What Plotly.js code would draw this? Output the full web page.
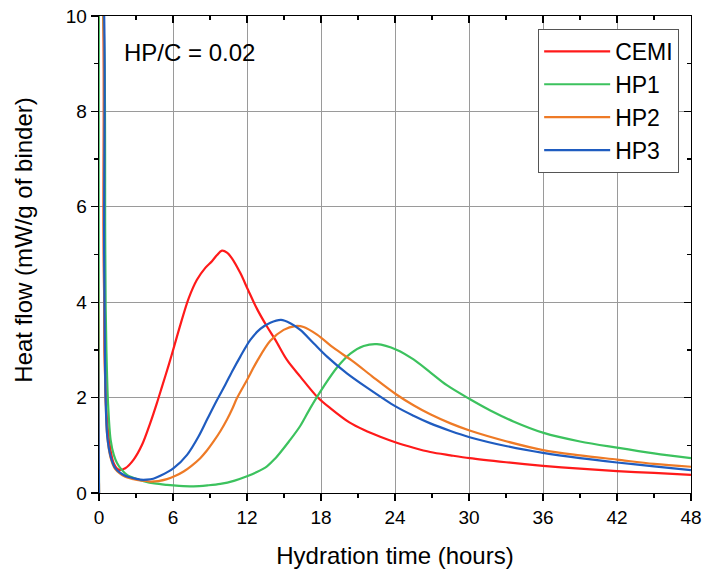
<!DOCTYPE html>
<html>
<head>
<meta charset="utf-8">
<script src="https://cdn.plot.ly/plotly-3.0.1.min.js"></script>
<style>html,body{margin:0;padding:0;background:#fff;}#chart{width:702px;height:571px;}</style>
</head>
<body>
<div id="chart"></div>
<script>
// Hydration time (hours) and heat flow (mW/g of binder)
const cemiT = [0, 0.05, 0.3, 0.38, 0.45, 0.6, 0.9, 1.2, 1.59, 2.13, 2.81, 3.49, 4.16, 4.7, 5.11, 5.65, 6.1, 6.59, 7.27, 7.94, 8.62, 9.16, 9.57, 9.97, 10.38, 10.78, 11.46, 12.08, 12.81, 13.62, 14.3, 15.24, 16.32, 17.68, 18.75, 20.3, 21.5, 22.8, 24.08, 25.5, 26.86, 28.5, 30.05, 33.0, 36.0, 39.0, 42.0, 45.0, 48.0];
const cemiV = [0, 11, 10.5, 5.5, 3.0, 1.7, 0.95, 0.62, 0.49, 0.52, 0.70, 1.01, 1.47, 1.89, 2.23, 2.68, 3.08, 3.52, 4.08, 4.47, 4.72, 4.86, 4.99, 5.08, 5.04, 4.92, 4.61, 4.26, 3.86, 3.49, 3.21, 2.79, 2.44, 2.02, 1.78, 1.48, 1.32, 1.18, 1.06, 0.95, 0.86, 0.79, 0.73, 0.645, 0.57, 0.51, 0.46, 0.42, 0.38];

const hp1T = [0, 0.08, 0.45, 0.5, 0.54, 0.6, 0.73, 0.94, 1.2, 1.46, 1.8, 2.27, 3.0, 3.62, 4.5, 5.51, 6.5, 7.67, 8.8, 9.84, 11.0, 12.0, 12.8, 13.62, 14.2, 14.7, 15.4, 16.3, 17.13, 18.21, 19.3, 20.38, 21.46, 22.54, 24.16, 25.5, 26.86, 28.2, 30.05, 31.73, 33.6, 36.05, 39.0, 42.0, 45.0, 48.0];
const hp1V = [0, 12, 9, 5.5, 3.9, 3.0, 1.9, 1.12, 0.8, 0.63, 0.5, 0.38, 0.3, 0.25, 0.2, 0.17, 0.15, 0.14, 0.16, 0.19, 0.26, 0.35, 0.44, 0.56, 0.7, 0.85, 1.08, 1.4, 1.78, 2.23, 2.63, 2.92, 3.08, 3.12, 3.0, 2.8, 2.53, 2.26, 1.97, 1.73, 1.5, 1.26, 1.08, 0.95, 0.83, 0.73];

const hp2T = [0, 0.05, 0.3, 0.38, 0.45, 0.54, 0.67, 0.94, 1.32, 2.13, 2.8, 3.5, 4.16, 4.8, 5.51, 6.2, 6.86, 7.5, 8.21, 8.75, 9.29, 9.85, 10.38, 10.8, 11.19, 12.0, 12.81, 13.89, 14.97, 15.92, 16.59, 17.68, 19.03, 20.65, 22.27, 24.08, 25.5, 26.86, 28.5, 30.05, 33.08, 36.0, 39.0, 42.0, 45.0, 48.0];
const hp2V = [0, 11, 10.5, 5.5, 3.0, 1.95, 1.19, 0.74, 0.5, 0.34, 0.29, 0.26, 0.24, 0.25, 0.29, 0.36, 0.45, 0.57, 0.73, 0.89, 1.08, 1.3, 1.54, 1.76, 1.99, 2.37, 2.76, 3.19, 3.42, 3.5, 3.48, 3.32, 3.04, 2.75, 2.42, 2.07, 1.84, 1.65, 1.46, 1.31, 1.08, 0.9, 0.79, 0.7, 0.61, 0.55];

const hp3T = [0, 0.05, 0.35, 0.42, 0.54, 0.67, 0.94, 1.32, 2.13, 2.8, 3.35, 3.89, 4.4, 4.97, 6.05, 7.14, 8.08, 8.76, 9.57, 10.24, 10.86, 11.46, 12.27, 13.08, 13.89, 14.76, 15.51, 16.32, 17.4, 18.49, 20.1, 21.73, 24.08, 25.5, 26.86, 28.5, 30.05, 33.08, 36.0, 39.0, 42.0, 45.0, 48.0];
const hp3V = [0, 11, 10.5, 5.0, 1.95, 1.19, 0.77, 0.52, 0.36, 0.31, 0.28, 0.28, 0.3, 0.36, 0.52, 0.8, 1.19, 1.54, 1.95, 2.27, 2.58, 2.86, 3.21, 3.44, 3.57, 3.63, 3.56, 3.42, 3.14, 2.86, 2.51, 2.21, 1.81, 1.62, 1.46, 1.3, 1.17, 0.98, 0.84, 0.73, 0.64, 0.56, 0.48];

const seriesNames = ["CEMI", "HP1", "HP2", "HP3"];
const seriesColors = ["#ff1a1a", "#3cc25e", "#ee7a26", "#1f5cc0"];
const xTickVals = [0, 6, 12, 18, 24, 30, 36, 42, 48];
const yTickVals = [0, 2, 4, 6, 8, 10];

const FONT = "Arial, 'Liberation Sans', sans-serif";
const xs = [cemiT, hp1T, hp2T, hp3T];
const ys = [cemiV, hp1V, hp2V, hp3V];

const traces = seriesNames.map((n, i) => ({
  x: xs[i], y: ys[i], name: n, type: "scatter", mode: "lines",
  line: {color: seriesColors[i], width: 2.2, shape: "spline", smoothing: 0.9},
  hoverinfo: "skip"
}));
traces.push({x: [], y: [], xaxis: "x2", yaxis: "y2", showlegend: false, type: "scatter", mode: "lines", hoverinfo: "skip"});

const axBase = {
  showline: true, linecolor: "#000", linewidth: 1.3,
  ticks: "outside", ticklen: 7, tickwidth: 1.3, tickcolor: "#000",
  tickfont: {family: FONT, size: 19, color: "#000"},
  zeroline: false, showgrid: true, gridcolor: "#9a9a9a", gridwidth: 1,
  fixedrange: true
};

const layout = {
  width: 702, height: 571,
  margin: {l: 99, r: 11, t: 16, b: 78},
  paper_bgcolor: "#fff", plot_bgcolor: "#fff",
  font: {family: FONT, color: "#000"},
  showlegend: true,
  xaxis: Object.assign({}, axBase, {
    range: [0, 48], tickmode: "array", tickvals: xTickVals, ticktext: xTickVals.map(String),
    minor: {dtick: 3, tick0: 0, ticks: "outside", ticklen: 4, tickwidth: 1.3, tickcolor: "#000", showgrid: false},
    title: {text: "Hydration time (hours)", font: {family: FONT, size: 24, color: "#000"}, standoff: 20}
  }),
  yaxis: Object.assign({}, axBase, {
    range: [0, 10], tickmode: "array", tickvals: yTickVals, ticktext: yTickVals.map(String),
    minor: {dtick: 1, tick0: 0, ticks: "outside", ticklen: 4, tickwidth: 1.3, tickcolor: "#000", showgrid: false}
  }),
  xaxis2: {
    overlaying: "x", side: "top", anchor: "y", range: [0, 48], tickmode: "array", tickvals: xTickVals,
    showticklabels: false, ticks: "inside", ticklen: 7, tickwidth: 1.3, tickcolor: "#000",
    showline: true, linecolor: "#000", linewidth: 1.3, showgrid: false, zeroline: false, fixedrange: true,
    minor: {dtick: 3, tick0: 0, ticks: "inside", ticklen: 4, tickwidth: 1.3, tickcolor: "#000", showgrid: false}
  },
  yaxis2: {
    overlaying: "y", side: "right", anchor: "x", range: [0, 10], tickmode: "array", tickvals: yTickVals,
    showticklabels: false, ticks: "inside", ticklen: 7, tickwidth: 1.3, tickcolor: "#000",
    showline: true, linecolor: "#000", linewidth: 1.3, showgrid: false, zeroline: false, fixedrange: true,
    minor: {dtick: 1, tick0: 0, ticks: "inside", ticklen: 4, tickwidth: 1.3, tickcolor: "#000", showgrid: false}
  },
  legend: {
    x: 0.98, xanchor: "right", y: 0.973, yanchor: "top",
    bgcolor: "#fff", bordercolor: "#555", borderwidth: 1,
    font: {family: FONT, size: 23, color: "#000"},
    itemwidth: 66, tracegroupgap: 0
  },
  annotations: [
    {text: "HP/C = 0.02", xref: "paper", yref: "paper", x: 0.0389, y: 0.9235,
     xanchor: "left", yanchor: "middle", showarrow: false,
     font: {family: FONT, size: 24, color: "#000"}},
    {text: "Heat flow (mW/g of binder)", xref: "paper", yref: "paper", x: -0.127, y: 0.5307,
     xanchor: "center", yanchor: "middle", textangle: -90, showarrow: false,
     font: {family: FONT, size: 24, color: "#000"}}
  ]
};

Plotly.newPlot("chart", traces, layout, {displayModeBar: false, staticPlot: true});
</script>
</body>
</html>
